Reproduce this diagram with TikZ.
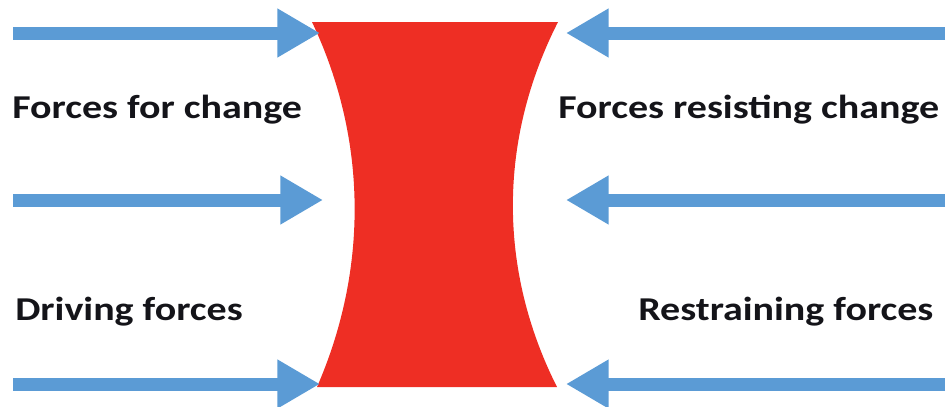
\documentclass[tikz,border=0pt]{standalone}
\usepackage{fontspec}
\setmainfont{Carlito}
\usetikzlibrary{arrows.meta}
\definecolor{fblue}{RGB}{91,155,213}
\definecolor{fred}{RGB}{238,46,36}
\definecolor{ftext}{RGB}{20,20,25}
\newcommand{\wide}[1]{\scalebox{1.2}[1]{#1}}
\begin{document}
\begin{tikzpicture}[x=0.75pt,y=-0.75pt,
  force/.style={draw=fblue,line width=9.75pt,-{Triangle[length=32pt,width=34.5pt]}},
  lbl/.style={font=\fontsize{25}{29}\selectfont\bfseries,text=ftext,inner sep=0pt,anchor=base west}]
\useasboundingbox (0,0) rectangle (947,407);
% barrier
\fill[fred] (312,22) -- (558,22)
  .. controls (498,140) and (498,270) .. (557,387)
  -- (317,387)
  .. controls (368,270) and (368,140) .. (312,22) -- cycle;
% coordinates
\coordinate (l1s) at (13,33);  \coordinate (l1e) at (320,33);
\coordinate (l2s) at (13,200); \coordinate (l2e) at (323,200);
\coordinate (l3s) at (13,384); \coordinate (l3e) at (320,384);
\coordinate (r1s) at (945,33);  \coordinate (r1e) at (566,33);
\coordinate (r2s) at (945,200); \coordinate (r2e) at (566,200);
\coordinate (r3s) at (945,384); \coordinate (r3e) at (566,384);
\draw[force] (l1s) -- (l1e);
\draw[force] (l2s) -- (l2e);
\draw[force] (l3s) -- (l3e);
\draw[force] (r1s) -- (r1e);
\draw[force] (r2s) -- (r2e);
\draw[force] (r3s) -- (r3e);
% labels
\node[lbl] (t1) at (12,118) {\wide{Forces for change}};
\node[lbl] (t2) at (558,118) {\wide{Forces resisting change}};
\node[lbl] (t3) at (15,320) {\wide{Driving forces}};
\node[lbl] (t4) at (638,320) {\wide{Restraining forces}};
\end{tikzpicture}
\end{document}
